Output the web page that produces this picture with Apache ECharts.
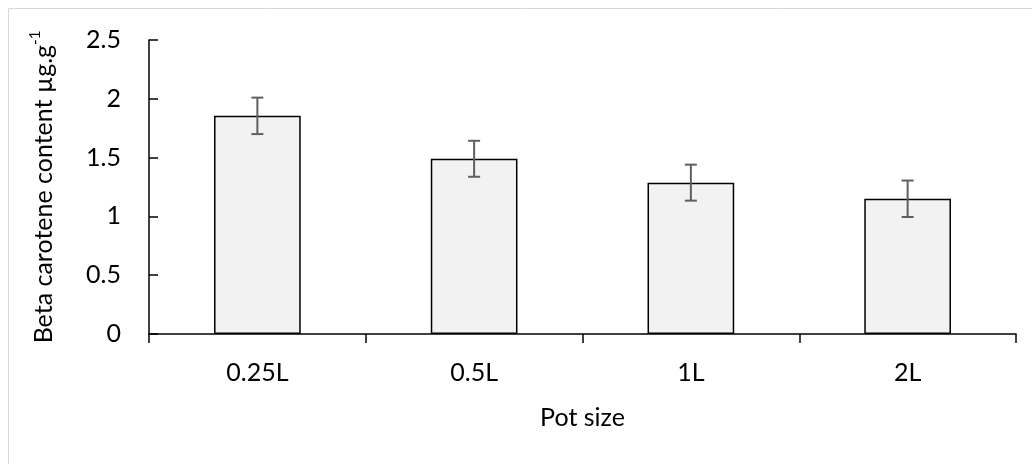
<!DOCTYPE html>
<html>
<head>
<meta charset="utf-8">
<script src="https://cdn.jsdelivr.net/npm/echarts@6/dist/echarts.min.js"></script>
<style>
html,body{margin:0;padding:0;background:#fff;}
#chart{width:1032px;height:464px;}
</style>
</head>
<body>
<div id="chart"></div>
<script>
var categories = ['0.25L', '0.5L', '1L', '2L'];
var values = [1.855, 1.49, 1.287, 1.15];
var errors = [0.155, 0.153, 0.153, 0.155];
var yTicks = [0, 0.5, 1, 1.5, 2, 2.5];

var FONT = 'Lato';
var FS = 25;
var chart = echarts.init(document.getElementById('chart'), null, {renderer: 'canvas'});

var errData = categories.map(function (c, i) {
  return [i, values[i] - errors[i], values[i] + errors[i]];
});

chart.setOption({
  animation: false,
  backgroundColor: '#ffffff',
  textStyle: {fontFamily: FONT},
  graphic: [{
    type: 'rect',
    shape: {x: 8.5, y: 8.5, width: 1200, height: 800},
    style: {fill: 'none', stroke: '#d9d9d9', lineWidth: 1},
    silent: true,
    z: -10
  }],
  grid: {left: 149, right: 16, top: 40, bottom: 130, containLabel: false},
  xAxis: {
    type: 'category',
    data: categories,
    boundaryGap: true,
    name: 'Pot size',
    nameLocation: 'middle',
    nameGap: 71,
    nameTextStyle: {fontFamily: FONT, fontSize: FS, color: '#000'},
    axisLine: {lineStyle: {color: '#000', width: 1.5}},
    axisTick: {show: true, inside: false, length: 9, alignWithLabel: false, lineStyle: {color: '#000', width: 1.5}},
    axisLabel: {fontFamily: FONT, fontSize: FS, color: '#000', margin: 26},
    splitLine: {show: false}
  },
  yAxis: {
    type: 'value',
    min: yTicks[0],
    max: yTicks[yTicks.length - 1],
    interval: yTicks[1] - yTicks[0],
    name: 'Beta carotene content µg.g{sup|-1}',
    nameLocation: 'middle',
    nameGap: 89,
    nameRotate: 90,
    nameTextStyle: {
      fontFamily: FONT, fontSize: FS, color: '#000',
      rich: {sup: {fontFamily: FONT, fontSize: 15, color: '#000', verticalAlign: 'top', lineHeight: 32}}
    },
    axisLine: {show: true, lineStyle: {color: '#000', width: 1.5}},
    axisTick: {show: true, inside: true, length: 9, lineStyle: {color: '#000', width: 1.5}},
    axisLabel: {fontFamily: FONT, fontSize: FS, color: '#000', margin: 28},
    splitLine: {show: false}
  },
  series: [{
    type: 'bar',
    data: values,
    barWidth: '40%',
    itemStyle: {color: '#f2f2f2', borderColor: '#000', borderWidth: 1.5},
    z: 2
  }, {
    type: 'custom',
    data: errData,
    z: 3,
    encode: {x: 0, y: [1, 2]},
    renderItem: function (params, api) {
      var x = api.value(0);
      var lo = api.coord([x, api.value(1)]);
      var hi = api.coord([x, api.value(2)]);
      var cap = 6;
      var st = {stroke: '#5f5f5f', lineWidth: 2, fill: 'none'};
      return {
        type: 'group',
        children: [
          {type: 'line', shape: {x1: lo[0], y1: lo[1], x2: hi[0], y2: hi[1]}, style: st},
          {type: 'line', shape: {x1: lo[0] - cap, y1: lo[1], x2: lo[0] + cap, y2: lo[1]}, style: st},
          {type: 'line', shape: {x1: hi[0] - cap, y1: hi[1], x2: hi[0] + cap, y2: hi[1]}, style: st}
        ]
      };
    }
  }]
});
</script>
</body>
</html>
